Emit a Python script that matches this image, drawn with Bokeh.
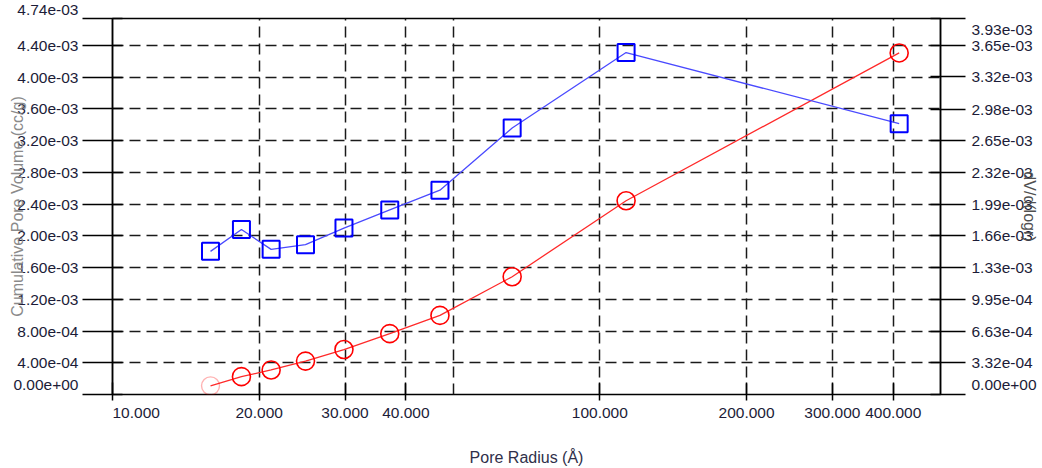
from bokeh.plotting import figure
from bokeh.models import Range1d, LinearAxis, FixedTicker
from bokeh.embed import file_html
from bokeh.resources import INLINE

# ---- data ----
radius = [15.89, 18.39, 21.16, 24.89, 29.85, 37.06, 46.98, 66.08, 113.2, 411.3]
cum_volume = [1.09e-4, 2.25e-4, 3.09e-4, 4.21e-4, 5.67e-4, 7.67e-4, 9.97e-4, 1.485e-3, 2.443e-3, 4.306e-3]
dv_dlogr = [1.496e-3, 1.724e-3, 1.517e-3, 1.566e-3, 1.739e-3, 1.929e-3, 2.136e-3, 2.786e-3, 3.574e-3, 2.831e-3]

x_ticks = [10, 20, 30, 40, 100, 200, 300, 400]
x_tick_labels = ["10.000", "20.000", "30.000", "40.000", "100.000", "200.000", "300.000", "400.000"]
x_grid = [20, 30, 40, 50, 100, 200, 300, 400]

left_ticks = [0.0, 4e-4, 8e-4, 1.2e-3, 1.6e-3, 2.0e-3, 2.4e-3, 2.8e-3, 3.2e-3, 3.6e-3, 4.0e-3, 4.4e-3, 4.74e-3]
left_tick_labels = ["0.00e+00", "4.00e-04", "8.00e-04", "1.20e-03", "1.60e-03", "2.00e-03", "2.40e-03",
                    "2.80e-03", "3.20e-03", "3.60e-03", "4.00e-03", "4.40e-03", "4.74e-03"]
right_ticks = [0.0, 3.32e-4, 6.63e-4, 9.95e-4, 1.33e-3, 1.66e-3, 1.99e-3, 2.32e-3, 2.65e-3, 2.98e-3,
               3.32e-3, 3.65e-3, 3.93e-3]
right_tick_labels = ["0.00e+00", "3.32e-04", "6.63e-04", "9.95e-04", "1.33e-03", "1.66e-03", "1.99e-03",
                     "2.32e-03", "2.65e-03", "2.98e-03", "3.32e-03", "3.65e-03", "3.93e-03"]

x_title = "Pore Radius (Å)"
left_title = "Cumulative Pore Volume (cc/g)"
right_title = "dV/d(logr)"

FONT = "Liberation Sans"
TICK_FS = "15.5px"
TICK_COLOR = "#1c1c38"
NB = "\u00a0"

p = figure(width=1042, height=468, x_axis_type="log",
           x_range=Range1d(10, 500), y_range=Range1d(left_ticks[0], left_ticks[-1]),
           output_backend="svg", toolbar_location=None,
           min_border_left=112, min_border_right=102, min_border_top=18, min_border_bottom=71)
p.extra_y_ranges = {"right": Range1d(right_ticks[0], right_ticks[-1])}
p.background_fill_color = "white"
p.border_fill_color = "white"
p.outline_line_color = "black"
p.outline_line_width = 1.5
p.outline_line_alpha = 1.0

# grids
p.xgrid.ticker = FixedTicker(ticks=x_grid)
p.ygrid.ticker = FixedTicker(ticks=left_ticks[1:-1])
for g in (p.xgrid, p.ygrid):
    g.grid_line_color = "#1a1a1a"
    g.grid_line_width = 1.5
    g.grid_line_dash = "11 6"
    g.grid_line_alpha = 1.0

# x axis
xa = p.xaxis[0]
xa.ticker = FixedTicker(ticks=x_ticks)
ov = {t: l for t, l in zip(x_ticks, x_tick_labels)}
# first label starts at its tick (as in the reference)
ov[x_ticks[0]] = NB * 11 + x_tick_labels[0]
xa.major_label_overrides = ov
xa.major_tick_out = 6
xa.major_tick_in = 12
xa.minor_tick_line_color = None
xa.major_label_standoff = 3
xa.axis_line_color = None
xa.major_tick_line_color = "black"
xa.major_tick_line_width = 1.5
xa.axis_label = x_title
xa.axis_label_standoff = 25
xa.axis_label_text_color = "#30304a"

# left axis
ya = p.yaxis[0]
ya.ticker = FixedTicker(ticks=left_ticks)
lov = {t: l for t, l in zip(left_ticks, left_tick_labels)}
lov[left_ticks[0]] = left_tick_labels[0] + "\n" + NB
lov[left_ticks[-1]] = left_tick_labels[-1] + "\n" + NB
ya.major_label_overrides = lov
ya.major_tick_out = 30
ya.major_tick_in = 10
ya.major_label_standoff = 4
ya.axis_label = left_title
ya.axis_label_standoff = -16
ya.axis_label_text_color = "#8a8a8a"

# right axis
ra = LinearAxis(y_range_name="right", ticker=FixedTicker(ticks=right_ticks))
rov = {t: l for t, l in zip(right_ticks, right_tick_labels)}
rov[right_ticks[0]] = right_tick_labels[0] + "\n" + NB
rov[right_ticks[-1]] = NB + "\n" + right_tick_labels[-1]
ra.major_label_overrides = rov
ra.major_tick_out = 25
ra.major_tick_in = 10
ra.major_label_standoff = 6
ra.axis_label = right_title
ra.axis_label_standoff = -19
ra.axis_label_text_color = "#505050"
p.add_layout(ra, "right")

for a in (ya, ra):
    a.minor_tick_line_color = None
    a.axis_line_color = "black"
    a.axis_line_width = 1.5
    a.major_tick_line_color = "black"
    a.major_tick_line_width = 1.5
for a in (xa, ya, ra):
    a.major_label_text_font = FONT
    a.major_label_text_font_size = TICK_FS
    a.major_label_text_color = TICK_COLOR
    a.axis_label_text_font = FONT
    a.axis_label_text_font_size = "16px"
    a.axis_label_text_font_style = "normal"

# series
p.line(radius, cum_volume, line_color="#ff2a2a", line_width=1.3)
p.scatter(radius[1:], cum_volume[1:], marker="circle", size=18, fill_color=None,
          line_color="#ff0000", line_width=1.6)
p.scatter(radius[:1], cum_volume[:1], marker="circle", size=18, fill_color=None,
          line_color="#ff0000", line_width=1.4, line_alpha=0.3)

p.line(radius, dv_dlogr, y_range_name="right", line_color="#4a4aff", line_width=1.3)
p.scatter(radius, dv_dlogr, y_range_name="right", marker="square", size=17, fill_color=None,
          line_color="#0000ff", line_width=2)

open("out.html", "w").write(file_html(p, INLINE))
